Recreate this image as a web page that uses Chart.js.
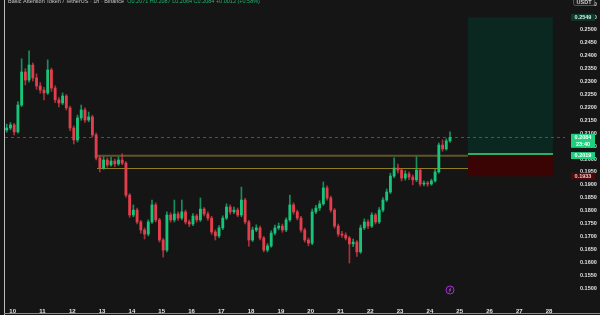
<!DOCTYPE html>
<html>
<head>
<meta charset="utf-8">
<script src="https://cdn.jsdelivr.net/npm/chart.js@4.4.1/dist/chart.umd.min.js"></script>
<style>
    html, body { margin: 0; padding: 0; background: #151515; }
    #wrap { position: relative; width: 600px; height: 315px; }
</style>
</head>
<body>
<div id="wrap"><canvas id="chart" width="600" height="315"></canvas></div>
<script>
var startDay = 9.8;
var candleStep = 0.125;
var firstOpen = 0.2112;

var closes = [
    0.2120, 0.2132, 0.2105, 0.2209, 0.2337, 0.2306, 0.2364, 0.2314, 0.2283, 0.2267,
    0.2256, 0.2345, 0.2275, 0.2229, 0.2217, 0.2244, 0.2198, 0.2120, 0.2074, 0.2159,
    0.2190, 0.2151, 0.2163, 0.2093, 0.2004, 0.1965, 0.1996, 0.1977, 0.1992, 0.1981,
    0.1996, 0.1984, 0.1860, 0.1783, 0.1802, 0.1756, 0.1725, 0.1709, 0.1756, 0.1822,
    0.1764, 0.1686, 0.1647, 0.1783, 0.1764, 0.1787, 0.1771, 0.1795, 0.1756, 0.1748,
    0.1779, 0.1764, 0.1806, 0.1787, 0.1771, 0.1717, 0.1702, 0.1733, 0.1771, 0.1814,
    0.1795, 0.1802, 0.1783, 0.1841, 0.1756, 0.1686, 0.1725, 0.1733, 0.1694, 0.1647,
    0.1663, 0.1713, 0.1733, 0.1740, 0.1725, 0.1764, 0.1822, 0.1795, 0.1771, 0.1725,
    0.1686, 0.1674, 0.1795, 0.1810, 0.1826, 0.1888, 0.1849, 0.1802, 0.1740, 0.1709,
    0.1705, 0.1694, 0.1671, 0.1678, 0.1640, 0.1733, 0.1756, 0.1740, 0.1783, 0.1756,
    0.1802, 0.1841, 0.1872, 0.1934, 0.1965, 0.1957, 0.1926, 0.1942, 0.1930, 0.1919,
    0.1957, 0.1903, 0.1907, 0.1903, 0.1915, 0.1950, 0.2054, 0.2039, 0.2070, 0.2084
];

var highs = [
    0.2135, 0.2141, 0.2138, 0.2222, 0.2388, 0.2350, 0.2419, 0.2372, 0.2330, 0.2296,
    0.2278, 0.2384, 0.2352, 0.2283, 0.2238, 0.2256, 0.2250, 0.2205, 0.2128, 0.2170,
    0.2209, 0.2198, 0.2182, 0.2170, 0.2100, 0.2010, 0.2008, 0.2004, 0.2006, 0.2000,
    0.2008, 0.2020, 0.1990, 0.1866, 0.1822, 0.1810, 0.1762, 0.1733, 0.1764, 0.1841,
    0.1830, 0.1770, 0.1692, 0.1795, 0.1792, 0.1841, 0.1795, 0.1841, 0.1802, 0.1764,
    0.1788, 0.1786, 0.1849, 0.1812, 0.1795, 0.1778, 0.1725, 0.1742, 0.1780, 0.1826,
    0.1822, 0.1814, 0.1810, 0.1891, 0.1848, 0.1762, 0.1736, 0.1745, 0.1740, 0.1700,
    0.1672, 0.1722, 0.1744, 0.1752, 0.1748, 0.1772, 0.1860, 0.1830, 0.1802, 0.1778,
    0.1732, 0.1694, 0.1806, 0.1820, 0.1838, 0.1911, 0.1896, 0.1856, 0.1808, 0.1748,
    0.1720, 0.1714, 0.1700, 0.1690, 0.1684, 0.1744, 0.1768, 0.1764, 0.1792, 0.1790,
    0.1812, 0.1850, 0.1884, 0.1945, 0.2004, 0.1980, 0.1964, 0.1955, 0.1950, 0.1938,
    0.2008, 0.1962, 0.1915, 0.1914, 0.1922, 0.1960, 0.2062, 0.2074, 0.2078, 0.2105
];

var lows = [
    0.2104, 0.2113, 0.2093, 0.2100, 0.2203, 0.2287, 0.2298, 0.2302, 0.2270, 0.2255,
    0.2229, 0.2250, 0.2262, 0.2218, 0.2202, 0.2210, 0.2190, 0.2110, 0.2058, 0.2066,
    0.2150, 0.2142, 0.2144, 0.2085, 0.1996, 0.1950, 0.1960, 0.1968, 0.1972, 0.1970,
    0.1975, 0.1978, 0.1852, 0.1774, 0.1776, 0.1748, 0.1712, 0.1690, 0.1702, 0.1750,
    0.1756, 0.1678, 0.1620, 0.1640, 0.1755, 0.1756, 0.1762, 0.1764, 0.1748, 0.1738,
    0.1742, 0.1755, 0.1758, 0.1779, 0.1762, 0.1708, 0.1686, 0.1695, 0.1726, 0.1765,
    0.1786, 0.1788, 0.1776, 0.1776, 0.1748, 0.1662, 0.1680, 0.1718, 0.1686, 0.1640,
    0.1640, 0.1658, 0.1706, 0.1726, 0.1716, 0.1718, 0.1758, 0.1786, 0.1764, 0.1716,
    0.1678, 0.1663, 0.1668, 0.1788, 0.1800, 0.1820, 0.1840, 0.1794, 0.1732, 0.1700,
    0.1696, 0.1686, 0.1597, 0.1660, 0.1622, 0.1634, 0.1726, 0.1730, 0.1734, 0.1748,
    0.1750, 0.1795, 0.1835, 0.1866, 0.1928, 0.1946, 0.1915, 0.1918, 0.1920, 0.1900,
    0.1912, 0.1895, 0.1896, 0.1894, 0.1898, 0.1910, 0.1945, 0.2030, 0.2034, 0.2064
];

// horizontal levels and the long position tool
var lastPrice = 0.2084;
var entryPrice = 0.2019;
var targetPrice = 0.2549;
var stopPrice = 0.1933;
var zoneTop = 0.2013;
var zoneBottom = 0.1964;
var zoneStartDay = 12.83;
var positionStart = 25.28;
var positionEnd = 28.13;

var title = "Basic Attention Token / TetherUS · 1h · Binance";
var ohlcText = "O0.2071 H0.2087 L0.2064 C0.2084 +0.0012 (+0.58%)";
var countdown = "23:40";

var FONT = '"Liberation Sans", Arial, sans-serif';
var UP = '#16c57a', DOWN = '#e23e4c';

var wickData = [], bodyData = [], bodyColors = [], wickColors = [];
for (var i = 0; i < closes.length; i++) {
    var o = i == 0 ? firstOpen : closes[i - 1];
    var c = closes[i];
    var t = startDay + i * candleStep;
    wickData.push({x: t, y: [lows[i], highs[i]]});
    bodyData.push({x: t, y: [Math.min(o, c), Math.max(o, c)]});
    var up = c >= o;
    bodyColors.push(up ? UP : DOWN);
    wickColors.push(up ? 'rgba(22,197,122,0.7)' : 'rgba(226,62,76,0.7)');
}

function tag(ctx, yPix, text, bg, fg, h) {
    ctx.fillStyle = bg;
    ctx.fillRect(571, yPix - 3.5, 24, h || 7);
    ctx.fillStyle = fg;
    ctx.textAlign = 'center';
    ctx.textBaseline = 'middle';
    ctx.fillText(text, 583, yPix + 0.3);
}

var overlay = {
    id: 'overlay',
    beforeDatasetsDraw: function (chart) {
        var ctx = chart.ctx, xs = chart.scales.x, ys = chart.scales.y, a = chart.chartArea;
        ctx.save();

        var bx1 = xs.getPixelForValue(positionStart), bx2 = xs.getPixelForValue(positionEnd);
        var yT = ys.getPixelForValue(targetPrice), yE = ys.getPixelForValue(entryPrice), yS = ys.getPixelForValue(stopPrice);
        ctx.fillStyle = '#0a2820';
        ctx.fillRect(bx1, yT, bx2 - bx1, yE - yT);
        ctx.fillStyle = '#3a0404';
        ctx.fillRect(bx1, yE, bx2 - bx1, yS - yE);

        // support zone lines
        var zx = xs.getPixelForValue(zoneStartDay);
        ctx.strokeStyle = '#5f5428';
        ctx.lineWidth = 2;
        ctx.beginPath();
        ctx.moveTo(zx, ys.getPixelForValue(zoneTop));
        ctx.lineTo(bx1, ys.getPixelForValue(zoneTop));
        ctx.stroke();
        ctx.strokeStyle = '#8f7d22';
        ctx.lineWidth = 1;
        ctx.beginPath();
        ctx.moveTo(zx, Math.round(ys.getPixelForValue(zoneBottom)) + 0.5);
        ctx.lineTo(bx1, Math.round(ys.getPixelForValue(zoneBottom)) + 0.5);
        ctx.stroke();

        // last price dashed line
        var yL = Math.round(ys.getPixelForValue(lastPrice)) + 0.5;
        ctx.strokeStyle = '#1c7046';
        ctx.setLineDash([3, 3]);
        ctx.beginPath();
        ctx.moveTo(a.left, yL);
        ctx.lineTo(a.right, yL);
        ctx.stroke();
        ctx.setLineDash([]);

        // entry line
        ctx.strokeStyle = '#2ee38c';
        ctx.lineWidth = 1.5;
        ctx.beginPath();
        ctx.moveTo(bx1, yE);
        ctx.lineTo(bx2, yE);
        ctx.stroke();
        ctx.restore();
    },
    afterDraw: function (chart) {
        var ctx = chart.ctx, xs = chart.scales.x, ys = chart.scales.y, a = chart.chartArea;
        ctx.save();
        ctx.font = '600 5.5px ' + FONT;

        tag(ctx, ys.getPixelForValue(targetPrice), targetPrice.toFixed(4), '#0d3a2b', '#cfeee0');
        var yL = ys.getPixelForValue(lastPrice);
        ctx.fillStyle = '#1fcf7f';
        ctx.fillRect(571, yL - 3.5, 24, 14);
        ctx.fillStyle = '#ffffff';
        ctx.textAlign = 'center';
        ctx.textBaseline = 'middle';
        ctx.fillText(lastPrice.toFixed(4), 583, yL + 0.3);
        ctx.fillText(countdown, 583, yL + 6.8);
        tag(ctx, ys.getPixelForValue(entryPrice) + 1.5, entryPrice.toFixed(4), '#1fcf7f', '#ffffff');
        tag(ctx, ys.getPixelForValue(stopPrice), stopPrice.toFixed(4), '#4a0a0a', '#f2c6c6');

        // currency button, cut by the top edge
        ctx.strokeStyle = '#555';
        ctx.fillStyle = '#1c1c1c';
        ctx.lineWidth = 1;
        ctx.beginPath();
        ctx.roundRect(573.5, -6.5, 21, 12, 2);
        ctx.fill();
        ctx.stroke();
        ctx.fillStyle = '#cfcfcf';
        ctx.textBaseline = 'alphabetic';
        ctx.fillText('USDT', 584, 3.5);

        // header line, also cut by the top edge
        ctx.textAlign = 'left';
        ctx.font = '5.5px ' + FONT;
        ctx.fillStyle = '#c8c8c8';
        ctx.fillText(title, 8, 3);
        var w = ctx.measureText(title + '  ').width;
        ctx.fillStyle = '#22b46e';
        ctx.fillText(ohlcText, 8 + w, 3);

        // lightning marker under the last candle
        var ix = xs.getPixelForValue(startDay + (closes.length - 1) * candleStep);
        var iy = a.bottom - 5;
        ctx.strokeStyle = '#9a36c2';
        ctx.lineWidth = 1;
        ctx.beginPath();
        ctx.arc(ix, iy, 4, 0, Math.PI * 2);
        ctx.stroke();
        ctx.beginPath();
        ctx.moveTo(ix + 1, iy - 2.5);
        ctx.lineTo(ix - 1, iy + 0.3);
        ctx.lineTo(ix + 1, iy - 0.3);
        ctx.lineTo(ix - 1, iy + 2.5);
        ctx.stroke();

        // window frame
        ctx.strokeStyle = '#bdbdbd';
        ctx.beginPath();
        ctx.moveTo(4.5, 0);
        ctx.lineTo(4.5, 315);
        ctx.stroke();
        ctx.strokeStyle = '#8a8a8a';
        ctx.beginPath();
        ctx.moveTo(4, 313.5);
        ctx.lineTo(600, 313.5);
        ctx.stroke();
        ctx.restore();
    }
};

var ctx = document.getElementById('chart').getContext('2d');
new Chart(ctx, {
    type: 'bar',
    data: {
        datasets: [
            {data: wickData, backgroundColor: wickColors, barThickness: 1, grouped: false, order: 2},
            {data: bodyData, backgroundColor: bodyColors, barThickness: 2.2, grouped: false, minBarLength: 1, order: 1}
        ]
    },
    options: {
        responsive: false,
        animation: false,
        devicePixelRatio: 1,
        layout: {padding: {left: 5, right: 0, top: 0, bottom: 0}},
        plugins: {legend: {display: false}, tooltip: {enabled: false}},
        scales: {
            x: {
                type: 'linear', min: 9.742, max: 28.534, offset: false,
                grid: {display: false}, border: {display: false},
                ticks: {
                    stepSize: 1, includeBounds: false, autoSkip: false, maxRotation: 0, padding: 5,
                    color: '#e2e2e2', font: {size: 6, weight: '600', family: FONT},
                    callback: function (v) { return String(v); }
                },
                afterFit: function (s) { s.height = 20; s.paddingLeft = 0; s.paddingRight = 0; }
            },
            y: {
                position: 'right', min: 0.1473, max: 0.2616,
                grid: {display: false}, border: {display: false},
                ticks: {
                    stepSize: 0.005, includeBounds: false, padding: 7,
                    color: '#e0e0e0', font: {size: 5.5, weight: '600', family: FONT},
                    callback: function (v) { return v.toFixed(4); }
                },
                afterFit: function (s) { s.width = 35; s.paddingTop = 0; s.paddingBottom = 0; }
            }
        }
    },
    plugins: [overlay]
});
</script>
</body>
</html>
